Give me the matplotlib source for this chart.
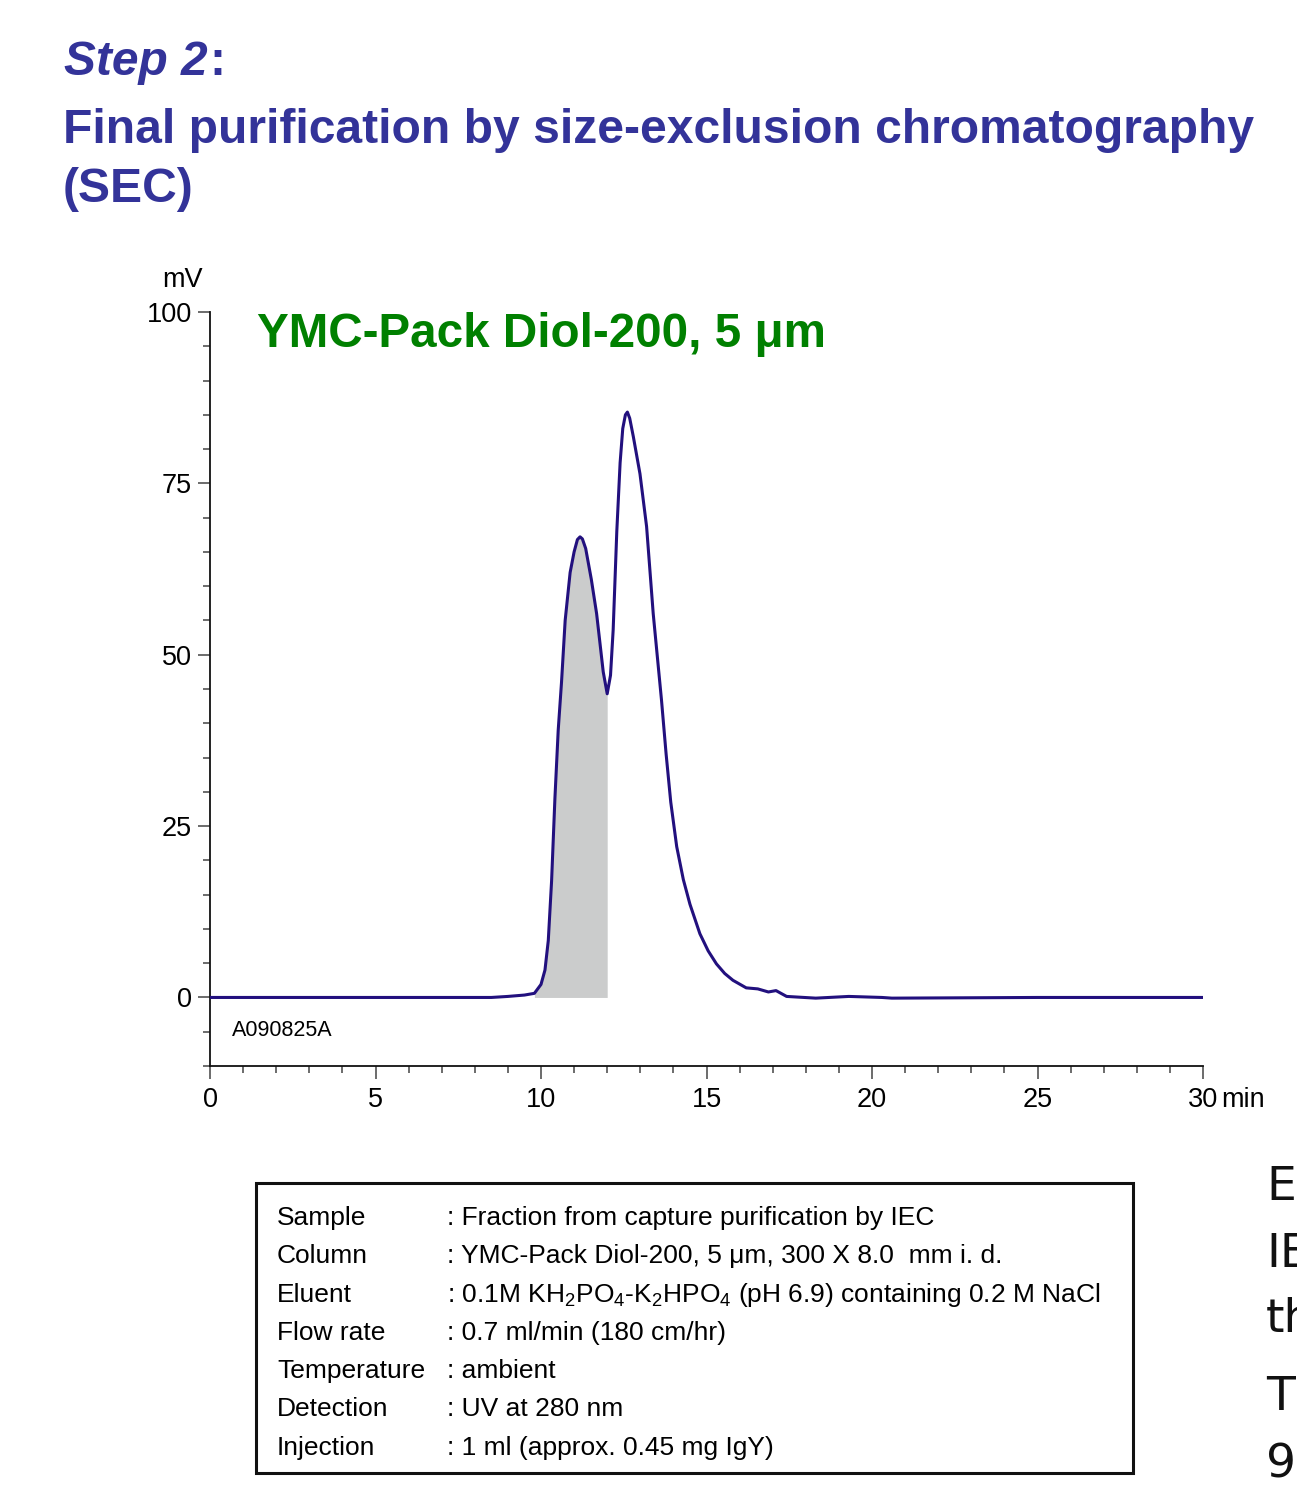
import matplotlib
matplotlib.use("Agg")
import matplotlib.pyplot as plt
from matplotlib.ticker import MultipleLocator
from matplotlib.patches import Rectangle
import numpy as np

plt.rcParams['font.family'] = ['Liberation Sans', 'DejaVu Sans']
plt.rcParams['mathtext.fontset'] = 'custom'
plt.rcParams['mathtext.rm'] = 'Liberation Sans'
plt.rcParams['mathtext.it'] = 'Liberation Sans:italic'

# ---- data ----
time_min = [0, 8.5, 9.0, 9.5, 9.8, 10.0, 10.12, 10.22, 10.32, 10.42, 10.52, 10.62,
            10.73, 10.88, 11.0, 11.1, 11.18, 11.25, 11.35, 11.52, 11.68, 11.88, 12.0,
            12.1, 12.18, 12.29, 12.39, 12.47, 12.55, 12.61, 12.68, 12.79, 12.99, 13.19,
            13.39, 13.64, 13.78, 13.92, 14.1, 14.3, 14.5, 14.8, 15.05, 15.3, 15.55,
            15.8, 16.2, 16.55, 16.87, 17.1, 17.42, 18.3, 19.3, 20.3, 20.6, 25.0, 30.0]
signal_mv = [0, 0, 0.15, 0.35, 0.6, 1.9, 4.0, 8.3, 17.0, 29.0, 39.0, 46.0,
             55.0, 62.0, 65.0, 66.8, 67.2, 66.9, 65.5, 61.0, 56.0, 47.5, 44.3,
             47.0, 53.6, 68.0, 78.0, 83.0, 85.0, 85.4, 84.5, 81.8, 76.4, 68.7,
             56.0, 43.4, 35.5, 28.5, 22.0, 17.2, 13.6, 9.3, 6.8, 4.9, 3.5,
             2.5, 1.4, 1.25, 0.8, 1.0, 0.15, -0.1, 0.15, 0.0, -0.1, 0.0, 0.0]
fraction_start = 9.8
fraction_end = 12.0

x_major = [0, 5, 10, 15, 20, 25, 30]
y_major = [0, 25, 50, 75, 100]

title_color = '#333399'
line_color = '#22107e'

fig = plt.figure(figsize=(12.97, 14.85), dpi=100)
W, H = 1297, 1485

def fx(px):
    return px / W

def fy(py):
    return 1 - py / H

ax = fig.add_axes([fx(210), fy(1066), fx(1203) - fx(210), fy(312) - fy(1066)])

t = np.array(time_min)
s = np.array(signal_mv)
mask = (t >= fraction_start) & (t <= fraction_end)
ax.fill_between(t[mask], 0, s[mask], color='#cbcccc', lw=0, zorder=1)
ax.plot(t, s, color=line_color, lw=2.2, zorder=3, solid_joinstyle='round')

ax.set_xlim(0, 30)
ax.set_ylim(-10, 100)
for sp in ['top', 'right']:
    ax.spines[sp].set_visible(False)
for sp in ['left', 'bottom']:
    ax.spines[sp].set_linewidth(1.3)
    ax.spines[sp].set_color('#111111')

ax.set_xticks(x_major)
ax.set_xticklabels([str(v) for v in x_major])
ax.xaxis.set_minor_locator(MultipleLocator(1))
ax.set_yticks(y_major)
ax.set_yticklabels([str(v) for v in y_major])
ax.yaxis.set_minor_locator(MultipleLocator(5))
ax.tick_params(axis='both', which='major', direction='out', length=9, width=1.1,
               color='#444444', labelsize=19.5)
ax.tick_params(axis='x', which='major', pad=6)
ax.tick_params(axis='y', which='major', pad=4)
ax.tick_params(axis='both', which='minor', direction='out', length=4.8, width=1.1,
               color='#444444')

fig.canvas.draw()
renderer = fig.canvas.get_renderer()
lab30 = ax.get_xticklabels()[-1]
bb30 = lab30.get_window_extent(renderer=renderer)
fig.text(bb30.x1 / W + 0.002, bb30.y0 / H, 'min', fontsize=19.5, va='bottom', ha='left')
fig.text(fx(183), fy(280), 'mV', fontsize=19.5, va='center', ha='center')

ax.text(0.66, -4.8, 'A090825A', fontsize=15.5, va='center', ha='left',
        transform=ax.transData)

# column label in green
fig.text(fx(257), fy(347), 'YMC-Pack Diol-200, 5 \u03bcm', fontsize=34.3, fontweight='bold',
         color='#008000', va='baseline', ha='left')

# titles
step = fig.text(fx(64), fy(75), 'Step 2', fontsize=34.5, fontweight='bold', fontstyle='italic',
                color=title_color, va='baseline', ha='left')
bb = step.get_window_extent(renderer=renderer)
fig.text(bb.x1 / W + 0.001, fy(75), ':', fontsize=34.5, fontweight='bold',
         color=title_color, va='baseline', ha='left')
fig.text(fx(63), fy(143), 'Final purification by size-exclusion chromatography', fontsize=34.6,
         fontweight='bold', color=title_color, va='baseline', ha='left')
fig.text(fx(63), fy(202), '(SEC)', fontsize=34.6, fontweight='bold', color=title_color,
         va='baseline', ha='left')

# condition box
fig.patches.append(Rectangle((fx(256), fy(1473)), fx(1133) - fx(256), fy(1183) - fy(1473),
                             transform=fig.transFigure, fill=False, lw=2.2, ec='#111111'))
labels = ['Sample', 'Column', 'Eluent', 'Flow rate', 'Temperature', 'Detection', 'Injection']
values = [': Fraction from capture purification by IEC',
          ': YMC-Pack Diol-200, 5 \u03bcm, 300 X 8.0  mm i. d.',
          ': 0.1M KH$_2$PO$_4$-K$_2$HPO$_4$ (pH 6.9) containing 0.2 M NaCl',
          ': 0.7 ml/min (180 cm/hr)',
          ': ambient',
          ': UV at 280 nm',
          ': 1 ml (approx. 0.45 mg IgY)']
for i, (lab, val) in enumerate(zip(labels, values)):
    yb = 1225 + i * 38.3
    fig.text(fx(277), fy(yb), lab, fontsize=19, va='baseline', ha='left')
    fig.text(fx(447), fy(yb), val, fontsize=19, va='baseline', ha='left')

# slide text that continues beyond the right edge (clipped in the reference too)
for txt, yb in [('E', 1200), ('IE', 1267), ('th', 1332), ('T', 1410), ('9', 1477)]:
    fig.text(fx(1266), fy(yb), txt, fontsize=34, family='DejaVu Sans', va='baseline',
             ha='left', color='#111111')

fig.savefig('out.png', dpi=100)
